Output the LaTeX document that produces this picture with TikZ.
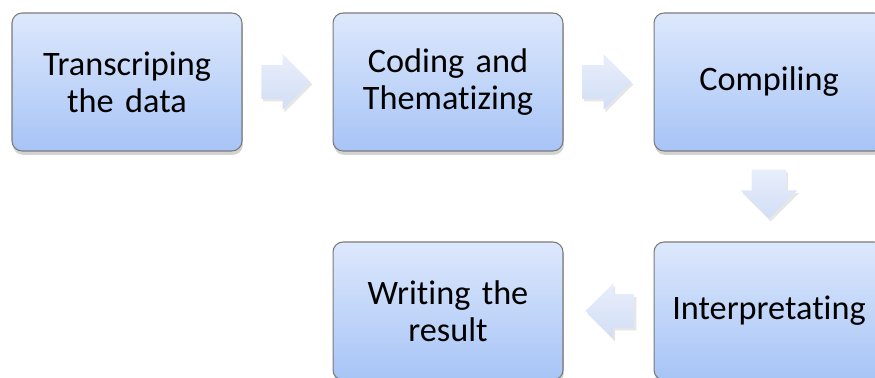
\documentclass[tikz,border=0pt]{standalone}
\usepackage{fontspec}
\setmainfont{Carlito}[Ligatures=NoCommon]
\usetikzlibrary{shapes.arrows,shadows,calc}
\definecolor{boxtop}{HTML}{DDE8FC}
\definecolor{boxbottom}{HTML}{A7C4F6}
\definecolor{boxline}{HTML}{7A7A7A}
\definecolor{arrowtop}{HTML}{E8EEFB}
\definecolor{arrowbottom}{HTML}{D2DEF6}
\begin{document}
\begin{tikzpicture}[x=0.02cm,y=-0.02cm,
    stage/.style={draw=boxline,line width=0.6pt,rounded corners=0.2cm,
      top color=boxtop,bottom color=boxbottom,
      minimum width=4.6cm,minimum height=2.76cm,text width=4.2cm,align=center,
      font=\fontsize{19.5}{21}\selectfont,
      drop shadow={shadow xshift=0.5pt,shadow yshift=-2.2pt,opacity=0.35}},
    flow/.style={single arrow,draw=none,top color=arrowtop,bottom color=arrowbottom,
      minimum height=0.98cm,minimum width=0pt,single arrow head extend=0.22cm,
      inner xsep=0pt,inner ysep=0.33cm,xshift=-0.2cm,
      drop shadow={shadow xshift=1pt,shadow yshift=-1.5pt,opacity=0.2}},
    flowdown/.style={flow,shape border rotate=270,inner xsep=0.34cm,inner ysep=0pt,
      xshift=0.2cm,yshift=0.22cm},
    flowleft/.style={flow,shape border rotate=180,xshift=0.4cm}]
    \useasboundingbox (0,0) rectangle (875,378);

    \node[stage] (transcribe) at (127,82) {Transcriping\\the data};
    \node[stage] (code) at (448,82) {Coding and\\Thematizing};
    \node[stage] (compile) at (769,82) {Compiling};
    \node[stage] (interpret) at (769,311) {Interpretating};
    \node[stage] (write) at (448,311) {Writing the\\result};

    \node[flow] (a1) at ($(transcribe.east)!0.5!(code.west)$) {};
    \node[flow] (a2) at ($(code.east)!0.5!(compile.west)$) {};
    \node[flowdown] (a3) at ($(compile.south)!0.5!(interpret.north)$) {};
    \node[flowleft] (a4) at ($(interpret.west)!0.5!(write.east)$) {};
\end{tikzpicture}
\end{document}
